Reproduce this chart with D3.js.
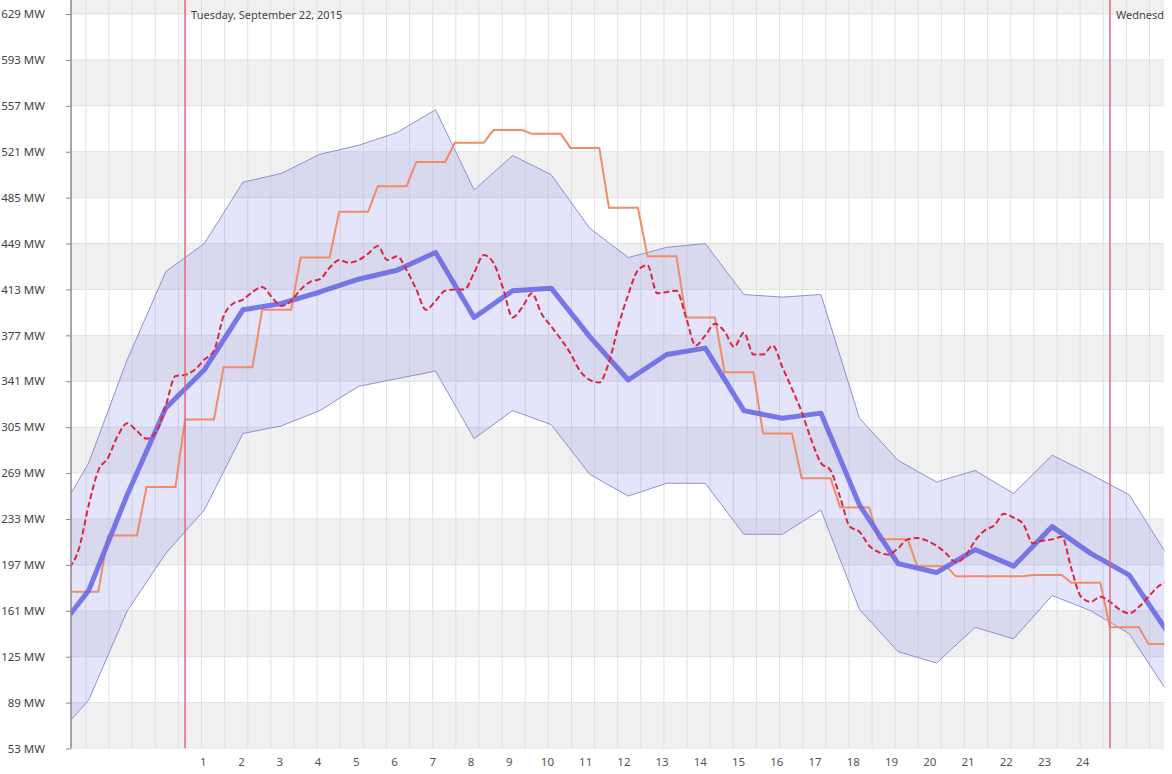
<!DOCTYPE html>
<html lang="en">
<head>
    <meta charset="UTF-8">
    <title>Load forecast - Tuesday, September 22, 2015</title>
    <script src="https://d3js.org/d3.v7.min.js"></script>
    <style>
        body {
            margin: 0;
            background-color: #ffffff;
        }
        text {
            font-family: 'Noto Sans', 'Open Sans', sans-serif;
        }
    </style>
</head>
<body>
    <script>
        // Axis tick labels
        const yTicks = [53, 89, 125, 161, 197, 233, 269, 305, 341, 377, 413, 449, 485, 521, 557, 593, 629];
        const hourLabels = [1, 2, 3, 4, 5, 6, 7, 8, 9, 10, 11, 12, 13, 14, 15, 16, 17, 18, 19, 20, 21, 22, 23, 24];

        // Day separators (hours after Tuesday 00:00)
        const dayStarts = [0, 24];
        const dayLabels = ["Tuesday, September 22, 2015", "Wednesday, September 23, 2015"];

        // Hourly forecast with its range (hour ending, MW)
        const hoursEnding = [-3, -2, -1, 0, 1, 2, 3, 4, 5, 6, 7, 8, 9, 10, 11, 12, 13, 14, 15, 16, 17, 18, 19, 20, 21, 22, 23, 24, 25, 26];
        const forecastMW = [138, 177, 252, 320, 350, 397, 402, 411, 421, 428, 442, 391, 412, 414, 376, 342, 362, 367, 318, 312, 316, 244, 198, 191, 209, 196, 227, 206, 189, 144];
        const bandHighMW = [225, 277, 358, 427, 449, 497, 504, 519, 526, 536, 554, 491, 518, 503, 461, 438, 446, 449, 409, 407, 409, 312, 279, 262, 271, 253, 283, 268, 252, 204];
        const bandLowMW = [57, 91, 161, 206, 240, 300, 306, 318, 337, 343, 349, 296, 318, 307, 268, 251, 261, 261, 221, 221, 240, 162, 129, 120, 148, 139, 173, 161, 143, 97];

        // Hourly schedule (hour ending, MW)
        const scheduleHours = [-2, -1, 0, 1, 2, 3, 4, 5, 6, 7, 8, 9, 10, 11, 12, 13, 14, 15, 16, 17, 18, 19, 20, 21, 22, 23, 24, 25, 26];
        const scheduleMW = [176, 220, 258, 311, 352, 397, 438, 474, 494, 513, 528, 538, 535, 524, 477, 439, 391, 348, 300, 265, 242, 217, 196, 188, 188, 189, 183, 148, 135];

        // Actual load, 15 minute values starting at -3 h
        const actualStart = -3;
        const actualStep = 0.25;
        const actualMW = [
            195, 210, 244, 271,  281, 298, 308, 302,  296, 301, 322, 345,
            346, 350, 358, 365,  392, 402, 405, 411,  415, 407, 400, 404,
            413, 419, 421, 430,  436, 434, 436, 441,  447, 436, 439, 428,
            413, 397, 404, 412,  413, 413, 426, 440,  434, 414, 391, 399,
            410, 394, 384, 374,  363, 349, 342, 340,  356, 385, 409, 428,
            432, 410, 411, 412,  391, 369, 377, 386,  380, 368, 379, 362,
            362, 369, 352, 335,  317, 295, 277, 271,  250, 227, 223, 212,
            207, 205, 210, 217,  218, 216, 212, 206,  199, 204, 216, 224,
            228, 237, 234, 229,  214, 216, 217, 219,  194, 172, 168, 172,
            168, 162, 159, 164,  172, 180, 184
        ];

        // Layout
        const width = 1172, height = 774;
        const plot = {left: 71, right: 1164.3, top: 0, bottom: 748.5};

        const x = d3.scaleLinear().domain([-2.96, 25.41]).range([plot.left, plot.right]);
        const y = d3.scaleLinear().domain([53, 629]).range([plot.bottom, 14]);
        // hour labels sit on a slightly tighter spacing than the data
        const xLabel = d3.scaleLinear().domain([1, 24]).range([x(0.5) - 1, x(23.5) - 8]);

        const svg = d3.select("body").append("svg")
            .attr("width", width)
            .attr("height", height);

        svg.append("defs").append("clipPath")
            .attr("id", "plot-clip")
            .append("rect")
            .attr("x", plot.left)
            .attr("y", plot.top)
            .attr("width", plot.right - plot.left)
            .attr("height", plot.bottom - plot.top);

        const grid = svg.append("g").attr("clip-path", "url(#plot-clip)");

        // Alternating horizontal stripes
        const stripeEdges = yTicks.concat([yTicks[yTicks.length - 1] + 36]);
        grid.selectAll(".stripe")
            .data(d3.range(stripeEdges.length - 1))
            .enter().append("rect")
            .attr("class", "stripe")
            .attr("x", plot.left)
            .attr("width", plot.right - plot.left)
            .attr("y", function(i) { return y(stripeEdges[i + 1]); })
            .attr("height", function(i) { return y(stripeEdges[i]) - y(stripeEdges[i + 1]); })
            .style("fill", function(i) { return i % 2 === 0 ? "#f0f0f0" : "#ffffff"; });

        grid.selectAll(".hline")
            .data(yTicks)
            .enter().append("line")
            .attr("x1", plot.left).attr("x2", plot.right)
            .attr("y1", function(d) { return y(d); })
            .attr("y2", function(d) { return y(d); })
            .style("stroke", "#e2e2e2");

        // Vertical grid lines every 36 minutes
        const vGrid = d3.range(-0.174 - 0.6 * 5, 26, 0.6).filter(function(t) { return t > -2.96; });
        grid.selectAll(".vline")
            .data(vGrid)
            .enter().append("line")
            .attr("x1", function(d) { return x(d); })
            .attr("x2", function(d) { return x(d); })
            .attr("y1", plot.top).attr("y2", plot.bottom)
            .style("stroke", "#e0e0e0");

        const series = svg.append("g").attr("clip-path", "url(#plot-clip)");

        // Forecast range band
        const bandData = hoursEnding.map(function(h, i) {
            return {t: h - 0.5, hi: bandHighMW[i], lo: bandLowMW[i], mw: forecastMW[i]};
        });

        series.append("path")
            .datum(bandData)
            .attr("d", d3.area()
                .x(function(d) { return x(d.t); })
                .y0(function(d) { return y(d.lo); })
                .y1(function(d) { return y(d.hi); }))
            .style("fill", "rgba(120, 120, 235, 0.2)")
            .style("stroke", "none");

        ["hi", "lo"].forEach(function(k) {
            series.append("path")
                .datum(bandData)
                .attr("d", d3.line()
                    .x(function(d) { return x(d.t); })
                    .y(function(d) { return y(d[k]); }))
                .style("fill", "none")
                .style("stroke", "#9090d0")
                .style("stroke-width", 1);
        });

        // Schedule: hourly steps with a 15 minute ramp
        const scheduleData = [];
        scheduleHours.forEach(function(h, i) {
            scheduleData.push({t: h - 1, mw: scheduleMW[i]});
            scheduleData.push({t: h - 0.25, mw: scheduleMW[i]});
        });

        series.append("path")
            .datum(scheduleData)
            .attr("d", d3.line()
                .x(function(d) { return x(d.t); })
                .y(function(d) { return y(d.mw); }))
            .style("fill", "none")
            .style("stroke", "#f08c68")
            .style("stroke-width", 2);

        // Forecast line
        series.append("path")
            .datum(bandData)
            .attr("d", d3.line()
                .x(function(d) { return x(d.t); })
                .y(function(d) { return y(d.mw); }))
            .style("fill", "none")
            .style("stroke", "#6a6ae4")
            .style("stroke-opacity", 0.9)
            .style("stroke-width", 5)
            .style("stroke-linejoin", "round");

        // Actual load
        const actualData = actualMW.map(function(v, i) {
            return {t: actualStart + i * actualStep, mw: v};
        });

        series.append("path")
            .datum(actualData)
            .attr("d", d3.line()
                .curve(d3.curveMonotoneX)
                .x(function(d) { return x(d.t); })
                .y(function(d) { return y(d.mw); }))
            .style("fill", "none")
            .style("stroke", "#dc2640")
            .style("stroke-width", 2)
            .style("stroke-dasharray", "6,3");

        // Day separators
        const days = svg.append("g").attr("clip-path", "url(#plot-clip)");
        days.selectAll(".day-line")
            .data(dayStarts)
            .enter().append("line")
            .attr("x1", function(d) { return x(d); })
            .attr("x2", function(d) { return x(d); })
            .attr("y1", plot.top).attr("y2", plot.bottom)
            .style("stroke", "#e2677c")
            .style("stroke-width", 1.5);

        days.selectAll(".day-label")
            .data(dayStarts)
            .enter().append("text")
            .attr("x", function(d) { return x(d) + 6; })
            .attr("y", 19)
            .style("font-size", "11px")
            .style("fill", "#444")
            .text(function(d, i) { return dayLabels[i]; });

        // Y axis
        const yAxis = svg.append("g")
            .attr("transform", "translate(" + plot.left + ",0)")
            .call(d3.axisLeft(y)
                .tickValues(yTicks)
                .tickSize(5)
                .tickPadding(21)
                .tickFormat(function(d) { return d + " MW"; }));
        yAxis.select(".domain").remove();
        yAxis.selectAll(".tick line").style("stroke", "#888");
        yAxis.selectAll(".tick text")
            .style("font-size", "11.5px")
            .style("fill", "#444");

        svg.append("line")
            .attr("x1", plot.left).attr("x2", plot.left)
            .attr("y1", plot.top).attr("y2", plot.bottom)
            .style("stroke", "#8a8a8a")
            .style("stroke-width", 1.5);

        // Hour-ending labels
        svg.append("g").selectAll(".hour")
            .data(hourLabels)
            .enter().append("text")
            .attr("x", function(d) { return xLabel(d); })
            .attr("y", 766)
            .attr("text-anchor", "middle")
            .style("font-size", "11.5px")
            .style("fill", "#555")
            .text(function(d) { return d; });
    </script>
</body>
</html>
